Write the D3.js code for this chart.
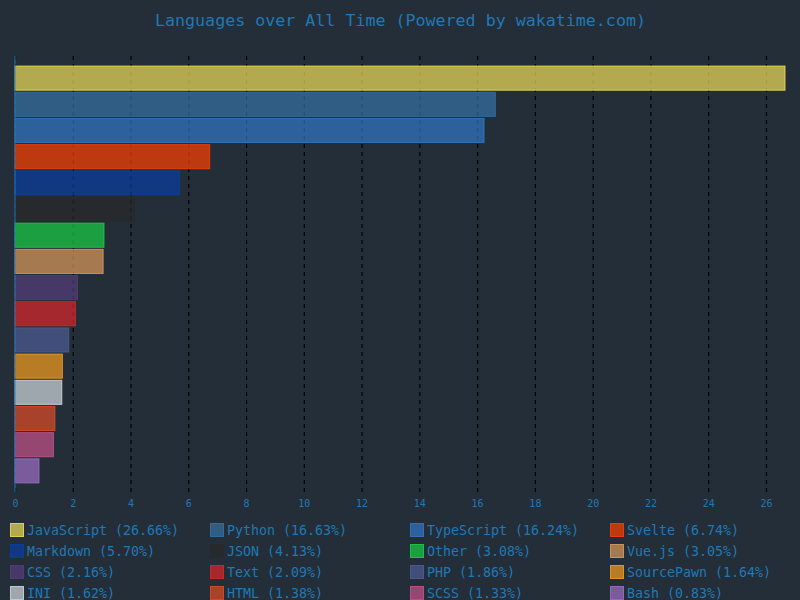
<!DOCTYPE html>
<html>
<head>
<meta charset="utf-8">
<script src="https://cdn.jsdelivr.net/npm/d3@7"></script>
<style>
  html, body { margin: 0; padding: 0; background: #242e38; }
  svg { display: block; }
</style>
</head>
<body>
<svg id="chart" width="800" height="600"></svg>
<script>
const languages = ["JavaScript", "Python", "TypeScript", "Svelte", "Markdown", "JSON", "Other", "Vue.js", "CSS", "Text", "PHP", "SourcePawn", "INI", "HTML", "SCSS", "Bash"];
const percents = [26.66, 16.63, 16.24, 6.74, 5.70, 4.13, 3.08, 3.05, 2.16, 2.09, 1.86, 1.64, 1.62, 1.38, 1.33, 0.83];
const colors = ["#f1e05a", "#3572a5", "#3178c6", "#ff3e00", "#083fa1", "#292929", "#19d044", "#de9b5d", "#563d7c", "#db262b", "#4f5d95", "#f69e1d", "#d1dbe0", "#e34c26", "#c6538c", "#9f6fc6"];
const xTicks = [0, 2, 4, 6, 8, 10, 12, 14, 16, 18, 20, 22, 24, 26];
const titleText = "Languages over All Time (Powered by wakatime.com)";

const data = languages.map((l, i) => ({ name: l, value: percents[i], color: colors[i] }));

const svg = d3.select("#chart");
const textColor = "#2078b6";
const font = "'DejaVu Sans Mono', monospace";

svg.append("rect").attr("width", 800).attr("height", 600).attr("fill", "#242e38");

svg.append("text")
  .attr("x", 400.5).attr("y", 26)
  .attr("text-anchor", "middle")
  .attr("font-family", font)
  .attr("font-size", 16.65)
  .attr("fill", textColor)
  .text(titleText);

const plotTop = 56, plotBottom = 492, plotLeft = 15, plotRight = 785;
const x = d3.scaleLinear().domain([0, d3.max(percents)]).range([plotLeft, plotRight]);
const y = d3.scaleBand().domain(languages).range([64, 485]).paddingInner(0.08).paddingOuter(0.08);

// x grid + labels
const xAxis = d3.axisBottom(x).tickValues(xTicks).tickSize(-(plotBottom - plotTop)).tickPadding(8).tickFormat(d3.format("d"));
const gx = svg.append("g").attr("transform", `translate(0,${plotBottom})`).call(xAxis);
gx.select(".domain").remove();
gx.selectAll(".tick line").attr("stroke", "#000").attr("stroke-dasharray", "4,4").attr("stroke-width", 1.2);
gx.selectAll(".tick text").attr("fill", textColor).attr("font-family", font).attr("font-size", 10);

// bars
svg.append("g").selectAll("rect").data(data).join("rect")
  .attr("x", x(0))
  .attr("y", d => y(d.name))
  .attr("width", d => x(d.value) - x(0))
  .attr("height", y.bandwidth())
  .attr("fill", d => d.color)
  .attr("fill-opacity", 0.7)
  .attr("stroke", d => d.color)
  .attr("stroke-opacity", 0.85)
  .attr("stroke-width", 1);

// y axis line
const yAxis = d3.axisLeft(y).tickSize(0).tickFormat("");
const gy = svg.append("g").attr("transform", `translate(${plotLeft},0)`).call(yAxis);
gy.select(".domain").attr("stroke", textColor).attr("d", `M0,${plotTop}V${plotBottom}`);

// legend
const legend = svg.append("g");
const items = legend.selectAll("g").data(data).join("g")
  .attr("transform", (d, i) => `translate(${10 + (i % 4) * 200},${523 + Math.floor(i / 4) * 21})`);
items.append("rect")
  .attr("x", 0.5).attr("y", 0.5).attr("width", 13).attr("height", 13)
  .attr("fill", d => d.color).attr("fill-opacity", 0.7)
  .attr("stroke", d => d.color).attr("stroke-opacity", 0.85);
items.append("text")
  .attr("x", 17).attr("y", 11.5)
  .attr("font-family", font).attr("font-size", 13.3)
  .attr("fill", textColor)
  .text(d => `${d.name} (${d.value.toFixed(2)}%)`);
</script>
</body>
</html>
